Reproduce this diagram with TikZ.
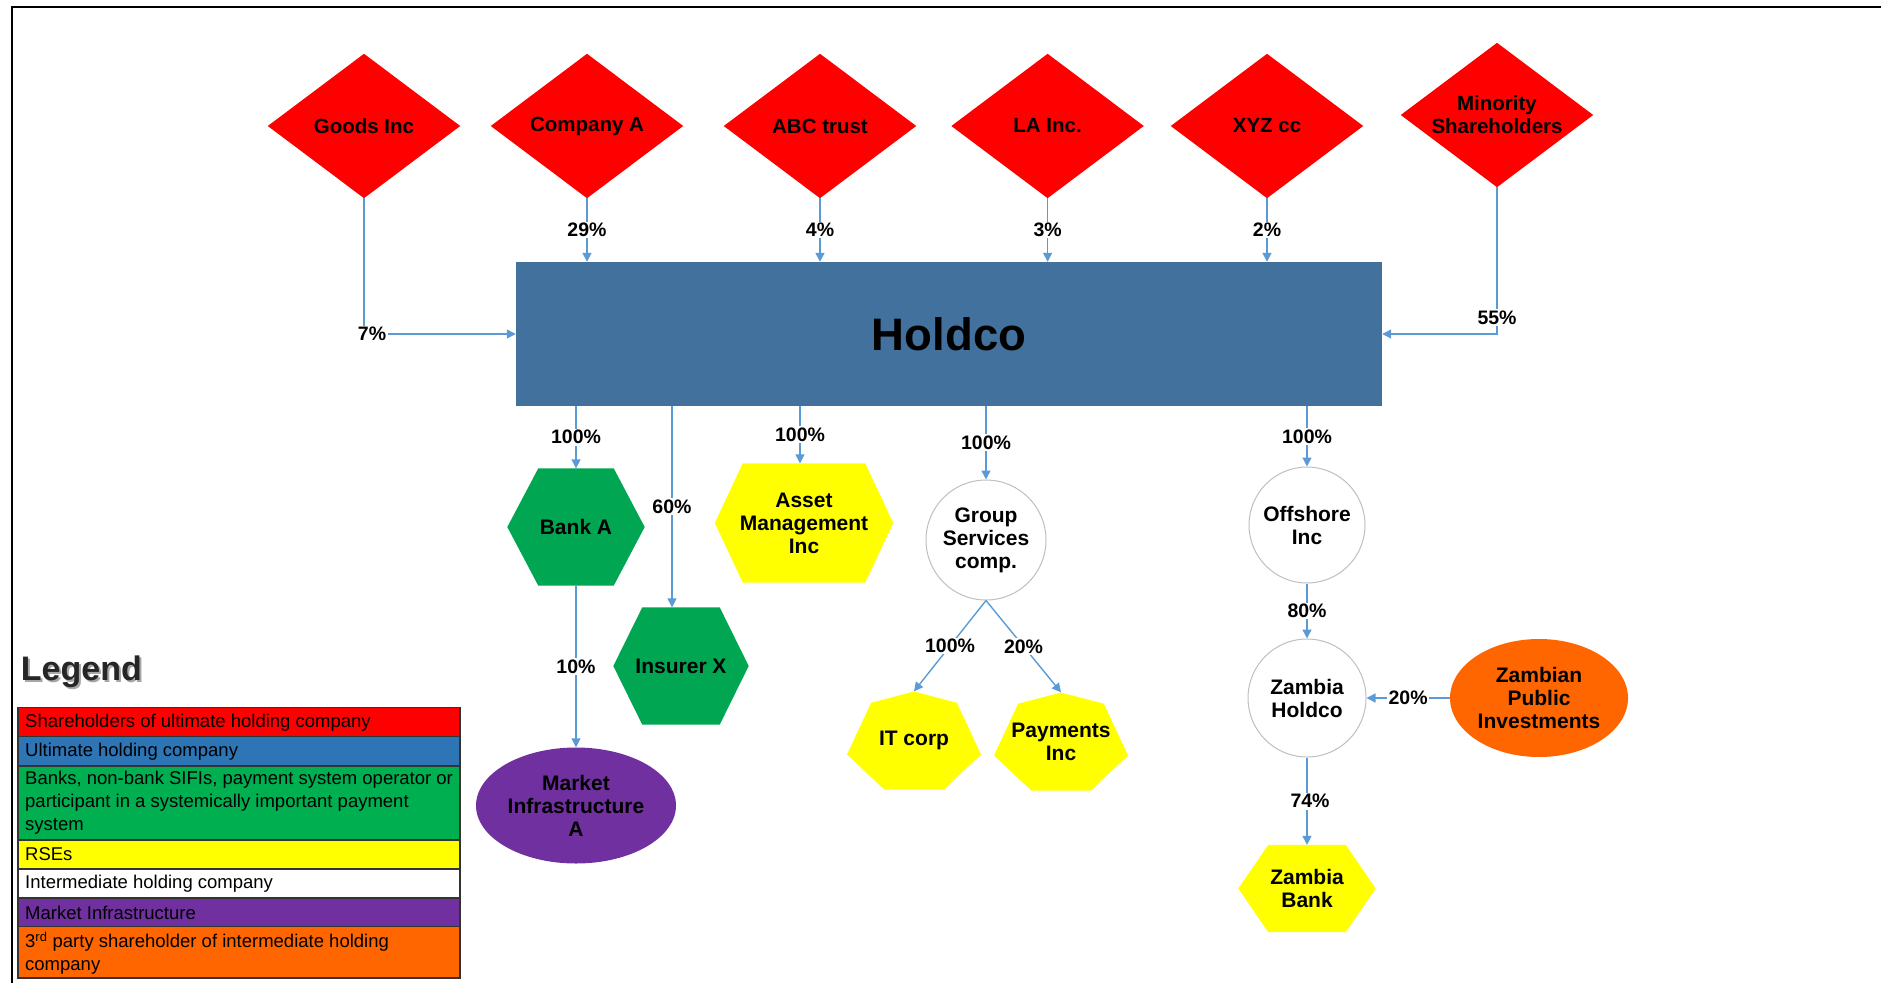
\documentclass[tikz,border=0pt]{standalone}
\usepackage{fontspec}
\setmainfont{Liberation Sans}
\usetikzlibrary{shapes.geometric,arrows.meta,calc}
\pgfdeclarelayer{bg}
\pgfsetlayers{bg,main}
\definecolor{dred}{HTML}{FF0000}
\definecolor{holdblue}{HTML}{41719C}
\definecolor{sgreen}{HTML}{00A651}
\definecolor{syellow}{HTML}{FFFF00}
\definecolor{spurple}{HTML}{7030A0}
\definecolor{sorange}{HTML}{FF6600}
\definecolor{conn}{HTML}{5B9BD5}
\definecolor{cgrey}{HTML}{BFBFBF}
\definecolor{lblue}{HTML}{2E75B6}
\definecolor{lgreen}{HTML}{00B050}
\definecolor{legdark}{HTML}{262626}
\newcommand{\hexfill}[3]{\begin{pgfonlayer}{bg}\fill[#2] (#1.west) -- ([xshift=#3pt]#1.north west) -- ([xshift=-#3pt]#1.north east) -- (#1.east) -- ([xshift=-#3pt]#1.south east) -- ([xshift=#3pt]#1.south west) -- cycle;\end{pgfonlayer}}
\newcommand{\heptfill}[2]{\begin{pgfonlayer}{bg}\fill[#2] ([shift={(0pt,49pt)}]#1.center) -- ([shift={(-42.85pt,37.75pt)}]#1.center) -- ([shift={(-67pt,-14pt)}]#1.center) -- ([shift={(-29.8pt,-49pt)}]#1.center) -- ([shift={(29.8pt,-49pt)}]#1.center) -- ([shift={(67pt,-14pt)}]#1.center) -- ([shift={(42.85pt,37.75pt)}]#1.center) -- cycle;\end{pgfonlayer}}
\newcommand{\diafill}[2]{\begin{pgfonlayer}{bg}\fill[#2] (#1.west) -- (#1.north) -- (#1.east) -- (#1.south) -- cycle;\end{pgfonlayer}}
\tikzset{
  txt/.style={font=\fontsize{21}{23}\selectfont\bfseries, align=center, inner sep=0pt},
  dtxt/.style={font=\fontsize{20.5}{23}\selectfont\bfseries, align=center, inner sep=0pt, minimum width=192pt, minimum height=144pt},
  lab/.style={font=\fontsize{19.5}{22}\selectfont\bfseries, fill=white, inner sep=1.5pt},
  arr/.style={draw=conn, line width=1.4pt, -{Triangle[length=9pt,width=9pt]}},
  circ/.style={txt, circle, fill=white, draw=cgrey, line width=1pt},
  legtxt/.style={font=\fontsize{18.5}{23}\selectfont, anchor=west, align=left, inner sep=0pt},
  legline/.style={draw=black!80, line width=1.2pt}
}
\begin{document}
\begin{tikzpicture}[x=1pt,y=-1pt]
\useasboundingbox (0,0) rectangle (1881,983);
% frame
\draw[line width=2.2pt] (11.7,983) -- (11.7,6.7) -- (1881,6.7);

% shareholders
\node[dtxt] (goods) at (364,126) {Goods Inc}; \diafill{goods}{dred}
\node[dtxt] (compA) at (587,126) {Company A}; \diafill{compA}{dred}
\node[dtxt] (abc) at (820,126) {ABC trust}; \diafill{abc}{dred}
\node[dtxt] (la) at (1047.6,126) {LA Inc.}; \diafill{la}{dred}
\node[dtxt] (xyz) at (1267,126) {XYZ cc}; \diafill{xyz}{dred}
\node[dtxt] (mino) at (1497,115) {Minority\\Shareholders}; \diafill{mino}{dred}

% holdco
\node[fill=holdblue, minimum width=866pt, minimum height=144pt, inner sep=0pt,
      font=\fontsize{45.5}{50}\selectfont\bfseries] (hold) at (949,334) {Holdco};

% subsidiaries
\node[txt, minimum width=137pt, minimum height=117pt] (bankA) at (576,527) {Bank A}; \hexfill{bankA}{sgreen}{31}
\node[txt, minimum width=135pt, minimum height=117pt] (insX) at (681,666) {Insurer X}; \hexfill{insX}{sgreen}{29}
\node[txt, minimum width=178pt, minimum height=119pt] (asset) at (804,523) {Asset\\Management\\Inc}; \hexfill{asset}{syellow}{28}
\node[circ, minimum size=120pt] (gs) at (986,540) {Group\\Services\\comp.};
\node[txt, minimum width=134pt, minimum height=98pt] (itc) at (914,740.5) {IT corp}; \heptfill{itc}{syellow}
\node[txt, minimum width=134pt, minimum height=98pt] (pay) at (1061,741.5) {Payments\\Inc}; \heptfill{pay}{syellow}
\node[txt, ellipse, fill=spurple, minimum width=200pt, minimum height=116pt] (mia) at (576,805.5) {Market\\Infrastructure\\A};
\node[circ, minimum size=116pt] (off) at (1307,525) {Offshore\\Inc};
\node[circ, minimum size=118pt] (zh) at (1307,698) {Zambia\\Holdco};
\node[txt, ellipse, fill=sorange, minimum width=178pt, minimum height=118pt] (zpi) at (1539,698) {Zambian\\Public\\Investments};
\node[txt, minimum width=137pt, minimum height=87pt] (zb) at (1307,888.5) {Zambia\\Bank}; \hexfill{zb}{syellow}{30}

% connectors into holdco
\draw[arr] (goods.south) -- (goods.south |- hold.west) node[lab, xshift=8pt] {7\%} -- (hold.west);
\draw[arr] (compA.south) -- node[lab] {29\%} (compA.south |- hold.north);
\draw[arr] (abc.south) -- node[lab] {4\%} (abc.south |- hold.north);
\draw[arr] (la.south) -- node[lab] {3\%} (la.south |- hold.north);
\draw[arr] (xyz.south) -- node[lab] {2\%} (xyz.south |- hold.north);
\draw[arr] (mino.south) -- node[lab, pos=0.89] {55\%} (mino.south |- hold.east) -- (hold.east);

% connectors out of holdco
\draw[arr] (bankA.north |- hold.south) -- node[lab] {100\%} (bankA.north);
\draw[arr] ([xshift=-9pt]insX.north |- hold.south) -- node[lab] {60\%} ([xshift=-9pt]insX.north);
\draw[arr] ([xshift=-4pt]asset.north |- hold.south) -- node[lab] {100\%} ([xshift=-4pt]asset.north);
\draw[arr] (gs.north |- hold.south) -- node[lab] {100\%} (gs.north);
\draw[arr] (off.north |- hold.south) -- node[lab] {100\%} (off.north);

% lower connectors
\draw[arr] (bankA.south) -- node[lab] {10\%} (mia.north);
\draw[arr] (gs.south) -- node[lab] {100\%} (itc.north);
\draw[arr] (gs.south) -- node[lab] {20\%} (pay.north);
\draw[arr] (off.south) -- node[lab] {80\%} (zh.north);
\draw[arr] (zpi.west) -- node[lab] {20\%} (zh.east);
\draw[arr] (zh.south) -- node[lab, xshift=3pt] {74\%} (zb.north);

% legend
\node[anchor=base west, inner sep=0pt, font=\fontsize{34}{38}\selectfont\bfseries, text=black!35] at (22.7,682) {Legend};
\node[anchor=base west, inner sep=0pt, font=\fontsize{34}{38}\selectfont\bfseries, text=legdark] (legtitle) at (20.7,680) {Legend};
\fill[dred] (18,707.7) rectangle (460,736.7);
\fill[lblue] (18,736.7) rectangle (460,766);
\fill[lgreen] (18,766) rectangle (460,840);
\fill[syellow] (18,840) rectangle (460,869);
\fill[white] (18,869) rectangle (460,898);
\fill[spurple] (18,898) rectangle (460,926.7);
\fill[sorange] (18,926.7) rectangle (460,978);
\draw[legline] (18,707.7) rectangle (460,978);
\foreach \yy in {736.7,766,840,869,898,926.7} \draw[legline] (18,\yy) -- (460,\yy);
\node[legtxt] (l1) at (25,722.5) {Shareholders of ultimate holding company};
\node[legtxt] (l2) at (25,751.5) {Ultimate holding company};
\node[legtxt] (l3) at (25,803) {Banks, non-bank SIFIs, payment system operator or\\participant in a systemically important payment\\system};
\node[legtxt] (l4) at (25,854.5) {RSEs};
\node[legtxt] (l5) at (25,883.5) {Intermediate holding company};
\node[legtxt] (l6) at (25,912.5) {Market Infrastructure};
\node[legtxt] (l7) at (25,953) {3\textsuperscript{rd} party shareholder of intermediate holding\\company};
\end{tikzpicture}
\end{document}
